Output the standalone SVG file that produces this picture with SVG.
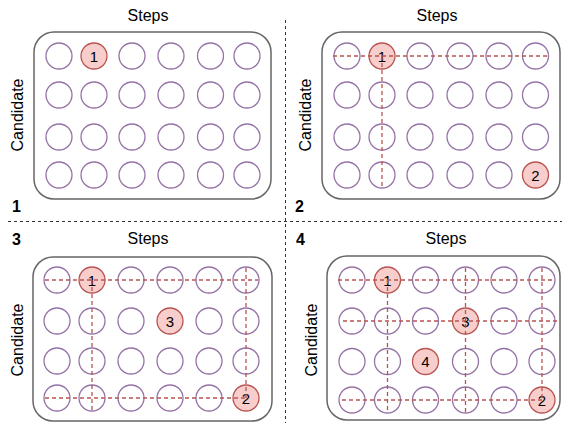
<svg xmlns="http://www.w3.org/2000/svg" width="562" height="423" viewBox="0 0 562 423">
<style>
.panel{fill:#fff;stroke:#666;stroke-width:1.5}
.c{fill:#fff;stroke:#9673a6;stroke-width:1.3}
.h{fill:#f8cecc;stroke:#b85450;stroke-width:1.3}
.d{fill:none;stroke:#b85450;stroke-width:1.3;stroke-dasharray:4 3}
.div{fill:none;stroke:#333;stroke-width:1;stroke-dasharray:3 3}
text{font-family:"Liberation Sans",Arial,sans-serif;fill:#000}
.t{font-size:16px;text-anchor:middle}
.n{font-size:15px;text-anchor:middle}
.b{font-size:16px;font-weight:bold}
</style>
<defs>
<circle id="e" r="13" class="c"/>
</defs>
<g id="dividers">
<line class="div" x1="285.5" y1="20" x2="285.5" y2="423"/>
<line class="div" x1="8" y1="221.5" x2="562" y2="221.5"/>
</g>

<g id="panel1">
<rect class="panel" x="34" y="32" width="237" height="167" rx="20"/>
<text class="t" x="148" y="21">Steps</text>
<text class="t" transform="translate(23,115) rotate(-90)">Candidate</text>
<text class="b" x="12" y="212">1</text>
<g>
<use href="#e" x="59" y="56"/><use href="#e" x="132" y="56"/><use href="#e" x="171" y="56"/><use href="#e" x="210.5" y="56"/><use href="#e" x="247" y="56"/>
<use href="#e" x="59" y="95"/><use href="#e" x="94" y="95"/><use href="#e" x="132" y="95"/><use href="#e" x="171" y="95"/><use href="#e" x="210.5" y="95"/><use href="#e" x="247" y="95"/>
<use href="#e" x="59" y="137"/><use href="#e" x="94" y="137"/><use href="#e" x="132" y="137"/><use href="#e" x="171" y="137"/><use href="#e" x="210.5" y="137"/><use href="#e" x="247" y="137"/>
<use href="#e" x="59" y="175"/><use href="#e" x="94" y="175"/><use href="#e" x="132" y="175"/><use href="#e" x="171" y="175"/><use href="#e" x="210.5" y="175"/><use href="#e" x="247" y="175"/>
</g>
<g id="p1-n1"><circle class="h" cx="94" cy="56" r="13"/><text class="n" x="94" y="61.5">1</text></g>
</g>

<g id="panel2">
<rect class="panel" x="322" y="32" width="238" height="167" rx="20"/>
<text class="t" x="437" y="21">Steps</text>
<text class="t" transform="translate(311,115) rotate(-90)">Candidate</text>
<text class="b" x="295" y="212">2</text>
<g>
<use href="#e" x="347" y="56"/><use href="#e" x="420" y="56"/><use href="#e" x="460" y="56"/><use href="#e" x="499" y="56"/><use href="#e" x="535.5" y="56"/>
<use href="#e" x="347" y="95"/><use href="#e" x="382" y="95"/><use href="#e" x="420" y="95"/><use href="#e" x="460" y="95"/><use href="#e" x="499" y="95"/><use href="#e" x="535.5" y="95"/>
<use href="#e" x="347" y="137"/><use href="#e" x="382" y="137"/><use href="#e" x="420" y="137"/><use href="#e" x="460" y="137"/><use href="#e" x="499" y="137"/><use href="#e" x="535.5" y="137"/>
<use href="#e" x="347" y="175"/><use href="#e" x="382" y="175"/><use href="#e" x="420" y="175"/><use href="#e" x="460" y="175"/><use href="#e" x="499" y="175"/>
</g>
<g id="p2-n1"><circle class="h" cx="382" cy="56" r="13"/><text class="n" x="382" y="61.5">1</text></g>
<g id="p2-n2"><circle class="h" cx="535.5" cy="175" r="13"/><text class="n" x="535.5" y="180.5">2</text></g>
<g id="p2-lines">
<line class="d" x1="333" y1="56" x2="548" y2="56"/>
<line class="d" x1="382" y1="56" x2="382" y2="187"/>
</g>
</g>

<g id="panel3">
<rect class="panel" x="33" y="257" width="239" height="164" rx="20"/>
<text class="t" x="148" y="244">Steps</text>
<text class="t" transform="translate(23,340) rotate(-90)">Candidate</text>
<text class="b" x="12" y="245">3</text>
<g>
<use href="#e" x="57" y="280"/><use href="#e" x="131" y="280"/><use href="#e" x="170" y="280"/><use href="#e" x="209" y="280"/><use href="#e" x="246" y="280"/>
<use href="#e" x="57" y="321"/><use href="#e" x="92" y="321"/><use href="#e" x="131" y="321"/><use href="#e" x="209" y="321"/><use href="#e" x="246" y="321"/>
<use href="#e" x="57" y="361"/><use href="#e" x="92" y="361"/><use href="#e" x="131" y="361"/><use href="#e" x="170" y="361"/><use href="#e" x="209" y="361"/><use href="#e" x="246" y="361"/>
<use href="#e" x="57" y="398"/><use href="#e" x="92" y="398"/><use href="#e" x="131" y="398"/><use href="#e" x="170" y="398"/><use href="#e" x="209" y="398"/>
</g>
<g id="p3-n1"><circle class="h" cx="92" cy="280" r="13"/><text class="n" x="92" y="285.5">1</text></g>
<g id="p3-n2"><circle class="h" cx="246" cy="398" r="13"/><text class="n" x="246" y="403.5">2</text></g>
<g id="p3-n3"><circle class="h" cx="170" cy="321" r="13"/><text class="n" x="170" y="326.5">3</text></g>
<g id="p3-lines">
<line class="d" x1="45" y1="280" x2="258" y2="280"/>
<line class="d" x1="92" y1="280" x2="92" y2="413"/>
<line class="d" x1="246" y1="268" x2="246" y2="398"/>
<line class="d" x1="45" y1="398" x2="246" y2="398"/>
</g>
</g>

<g id="panel4">
<rect class="panel" x="327" y="256" width="233" height="164" rx="20"/>
<text class="t" x="446" y="244">Steps</text>
<text class="t" transform="translate(317,340) rotate(-90)">Candidate</text>
<text class="b" x="296" y="245">4</text>
<g>
<use href="#e" x="352" y="280"/><use href="#e" x="425.5" y="280"/><use href="#e" x="465.5" y="280"/><use href="#e" x="504" y="280"/><use href="#e" x="542" y="280"/>
<use href="#e" x="352" y="321"/><use href="#e" x="387.5" y="321"/><use href="#e" x="425.5" y="321"/><use href="#e" x="504" y="321"/><use href="#e" x="542" y="321"/>
<use href="#e" x="352" y="361.5"/><use href="#e" x="387.5" y="361.5"/><use href="#e" x="465.5" y="361.5"/><use href="#e" x="504" y="361.5"/><use href="#e" x="542" y="361.5"/>
<use href="#e" x="352" y="400"/><use href="#e" x="387.5" y="400"/><use href="#e" x="425.5" y="400"/><use href="#e" x="465.5" y="400"/><use href="#e" x="504" y="400"/>
</g>
<g id="p4-n1"><circle class="h" cx="387.5" cy="280" r="13"/><text class="n" x="387.5" y="285.5">1</text></g>
<g id="p4-n2"><circle class="h" cx="542" cy="400" r="13"/><text class="n" x="542" y="405.5">2</text></g>
<g id="p4-n3"><circle class="h" cx="465.5" cy="321" r="13"/><text class="n" x="465.5" y="326.5">3</text></g>
<g id="p4-n4"><circle class="h" cx="425.5" cy="361.5" r="13"/><text class="n" x="425.5" y="367">4</text></g>
<g id="p4-lines">
<line class="d" x1="338" y1="280" x2="552" y2="280"/>
<line class="d" x1="343" y1="321" x2="560" y2="321"/>
<line class="d" x1="387.5" y1="280" x2="387.5" y2="412"/>
<line class="d" x1="465.5" y1="268" x2="465.5" y2="412"/>
<line class="d" x1="542" y1="268" x2="542" y2="400"/>
<line class="d" x1="342" y1="400" x2="542" y2="400"/>
</g>
</g>
</svg>
